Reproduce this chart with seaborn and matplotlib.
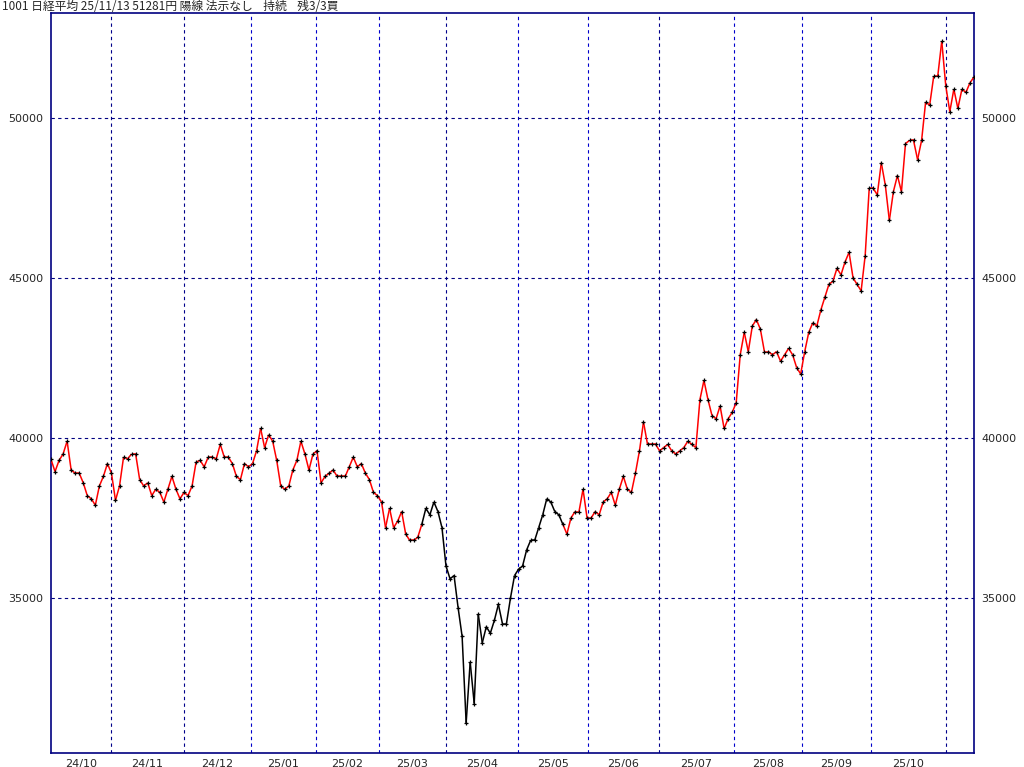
import numpy as np
import matplotlib
matplotlib.use("Agg")
import matplotlib.pyplot as plt
import seaborn as sns
from matplotlib.collections import LineCollection

sns.set_style("white")
plt.rcParams['font.family'] = ['Noto Sans CJK JP', 'DejaVu Sans']

title = "1001 日経平均 25/11/13 51281円 陽線 法示なし    持続    残3/3買"

# daily closes, Oct 2024 -> 13 Nov 2025
closes = [
    39330, 38950, 39300, 39500, 39900, 39000, 38900, 38900, 38600, 38200, 38100, 37900, 38500, 38800, 39200, 38900,
    38050, 38500, 39400, 39350, 39500, 39500, 38700, 38500, 38600, 38200, 38400, 38300, 38000, 38400, 38800, 38400, 38100, 38300, 38200, 38500,
    39250, 39300, 39100, 39400, 39400, 39350, 39800, 39400, 39400, 39200, 38800, 38700, 39200, 39100, 39200, 39600, 40300, 39700, 40100,
    39900, 39300, 38500, 38400, 38500, 39000, 39300, 39900, 39500, 39000, 39500, 39600, 38600, 38800, 38900, 39000, 38800, 38800,
    38800, 39100, 39400, 39100, 39200, 38900, 38700, 38300, 38200, 38000, 37200, 37800, 37200, 37400, 37700, 37000, 36800,
    36800, 36900, 37300, 37800, 37600, 38000, 37700, 37200, 36000, 35600, 35700,
    34700, 33800, 31100, 33000, 31700, 34500, 33600, 34100, 33900, 34300, 34800, 34200, 34200, 35000, 35700,
    35900, 36000, 36500, 36800, 36800, 37200, 37600, 38100, 38000, 37700, 37600, 37300, 37000, 37500, 37700, 37700, 38400,
    37500, 37500, 37700, 37600, 38000, 38100, 38300, 37900, 38400, 38800, 38400, 38300, 38900, 39600, 40500,
    39800, 39800, 39800, 39600, 39700, 39800, 39600, 39500, 39600, 39700, 39900, 39800, 39700, 41200, 41800, 41200,
    40700, 40600, 41000, 40300, 40600, 40800, 41100, 42600, 43300, 42700, 43500, 43700, 43400, 42700, 42700, 42600,
    42700, 42400, 42600, 42800, 42600, 42200, 42000, 42700, 43300, 43600, 43500, 44000, 44400, 44800, 44900, 45300,
    45100, 45500, 45800, 45000, 44800, 44600, 45700, 47800, 47800, 47600, 48600, 47900, 46800, 47700, 48200, 47700,
    49200, 49300, 49300, 48700, 49300, 50500, 50400, 51300, 51300, 52400, 51000, 50200, 50900, 50300, 50900, 50800, 51100, 51281,
]
# segments drawn black (trend signal off), as index ranges
black_ranges = [(92, 127)]

month_labels = ["24/10", "24/11", "24/12", "25/01", "25/02", "25/03", "25/04",
                "25/05", "25/06", "25/07", "25/08", "25/09", "25/10"]
month_lines = [111, 184, 251, 316, 379, 446, 518, 588, 659, 734, 802, 871, 946]  # pixel columns
month_line_col = ["k", "k", "b", "b", "b", "k", "b", "b", "k", "b", "b", "b", "k"]
yticks = [35000, 40000, 45000, 50000]

L, R, T, B = 51, 974, 13, 753
W, H = 1024, 767
fig = plt.figure(figsize=(10.24, 7.67), dpi=100)
ax = fig.add_axes([L / W, 1 - B / H, (R - L) / W, (B - T) / H])

n = len(closes)
x = np.linspace(0, 1, n)
y = np.array(closes, dtype=float)
pts = np.column_stack([x, y])
segs = np.stack([pts[:-1], pts[1:]], axis=1)
cols = []
for i in range(n - 1):
    black = any(a <= i < b for a, b in black_ranges)
    cols.append("black" if black else "red")
ax.add_collection(LineCollection(segs, colors=cols, linewidths=1.1, zorder=3))
sns.scatterplot(x=x, y=y, ax=ax, marker="+", color="black", s=12, linewidth=0.9, zorder=4, legend=False)

ax.set_xlim(0, 1)
ax.set_ylim(50000 - (B - 118) * 31.25, 50000 + (118 - T) * 31.25)

fx = [(p - L) / (R - L) for p in month_lines]
for xx, c in zip(fx, month_line_col):
    ax.axvline(xx, color="#00008b" if c == "k" else "#0000cc", ls=(0, (3, 3)), lw=0.8)
for yy in yticks:
    ax.axhline(yy, color="#000080", ls=(0, (3, 3)), lw=0.8)

ax.set_yticks(yticks)
ax.set_yticklabels([str(v) for v in yticks], fontsize=8, family="DejaVu Sans")
ax.tick_params(axis="y", left=False, right=False, labelleft=True, labelright=True, pad=2)
ax.set_xticks([])
edges = [0] + fx + [1]
for i, lab in enumerate(month_labels):
    cx = (edges[i] + edges[i + 1]) / 2
    ax.text(cx, -0.008, lab, transform=ax.transAxes, ha="center", va="top", fontsize=8, family="DejaVu Sans")
for s in ax.spines.values():
    s.set_color("#000080")
    s.set_linewidth(1.2)

fig.text(2 / W, 1 - 7 / H, title, ha="left", va="center", fontsize=8.5)
fig.savefig("out.png", dpi=100)
